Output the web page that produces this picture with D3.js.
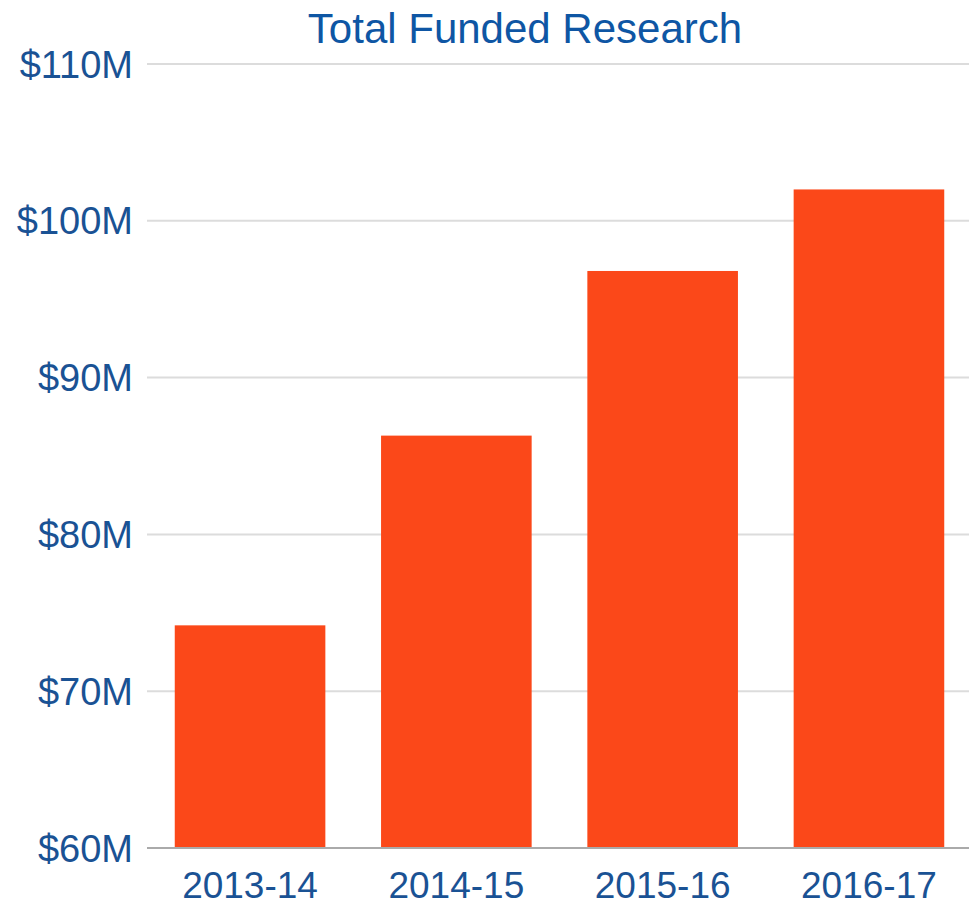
<!DOCTYPE html>
<html>
<head>
<meta charset="utf-8">
<script src="https://cdn.jsdelivr.net/npm/d3@7"></script>
<style>
  body { margin: 0; background: #fff; }
  svg { display: block; font-family: "Liberation Sans", Arial, Helvetica, sans-serif; }
</style>
</head>
<body>
<svg id="chart" width="969" height="906"></svg>
<script>
const years = ['2013-14', '2014-15', '2015-16', '2016-17'];
const funding = [74.2, 86.3, 96.8, 102.0]; // $M
const yTicks = [60, 70, 80, 90, 100, 110];

const svg = d3.select('#chart');
const width = 969;
const margin = { top: 64, right: 0, bottom: 58, left: 150 };
const height = 906;

const x = d3.scaleBand()
  .domain(years)
  .range([margin.left, width - margin.right])
  .paddingInner(0.27)
  .paddingOuter(0.12);

const y = d3.scaleLinear()
  .domain([60, 110])
  .range([height - margin.bottom, margin.top]);

// gridlines
svg.append('g')
  .selectAll('line')
  .data(yTicks.slice(1))
  .enter()
  .append('line')
  .attr('x1', 147)
  .attr('x2', width)
  .attr('y1', d => y(d))
  .attr('y2', d => y(d))
  .attr('stroke', '#dcdcdc')
  .attr('stroke-width', 2);

// y labels
svg.append('g')
  .selectAll('text')
  .data(yTicks)
  .enter()
  .append('text')
  .attr('x', 133)
  .attr('y', d => y(d))
  .attr('dy', '0.36em')
  .attr('text-anchor', 'end')
  .attr('fill', '#1a5294')
  .style('font-size', '38px')
  .text(d => `$${d}M`);

// bars
svg.selectAll('.bar')
  .data(years.map((yr, i) => ({ yr, v: funding[i] })))
  .enter()
  .append('rect')
  .attr('class', 'bar')
  .attr('x', d => x(d.yr))
  .attr('y', d => y(d.v))
  .attr('width', x.bandwidth())
  .attr('height', d => y(60) - y(d.v))
  .attr('fill', '#fb4819');

// baseline
svg.append('line')
  .attr('x1', 147)
  .attr('x2', width)
  .attr('y1', y(60))
  .attr('y2', y(60))
  .attr('stroke', '#aaaaaa')
  .attr('stroke-width', 2);

// x labels
svg.append('g')
  .selectAll('text')
  .data(years)
  .enter()
  .append('text')
  .attr('x', d => x(d) + x.bandwidth() / 2)
  .attr('y', 898)
  .attr('text-anchor', 'middle')
  .attr('fill', '#1a5294')
  .style('font-size', '37px')
  .text(d => d);

// title
svg.append('text')
  .attr('x', 525)
  .attr('y', 43)
  .attr('text-anchor', 'middle')
  .attr('fill', '#0e56a4')
  .style('font-size', '42px')
  .text('Total Funded Research');
</script>
</body>
</html>
